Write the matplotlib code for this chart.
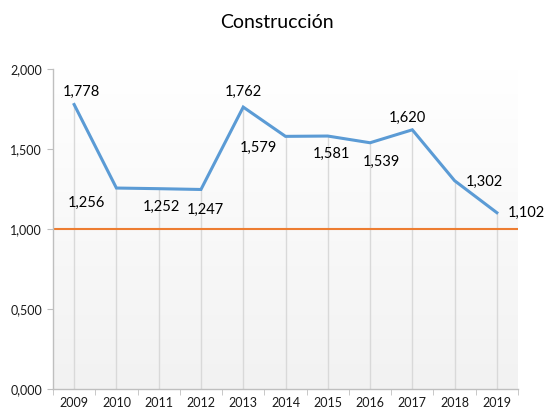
import matplotlib
matplotlib.use("Agg")
import matplotlib.pyplot as plt
import numpy as np
from matplotlib.colors import LinearSegmentedColormap

years = ["2009", "2010", "2011", "2012", "2013", "2014", "2015", "2016", "2017", "2018", "2019"]
values = [1.778, 1.256, 1.252, 1.247, 1.762, 1.579, 1.581, 1.539, 1.620, 1.302, 1.102]
reference_level = 1.0
title = "Construcción"
yticks = [0.0, 0.5, 1.0, 1.5, 2.0]

# label offsets in pixels (dx, dy with dy positive = up)
label_offsets = [(7, 13), (-30, -15), (3, -18), (4, -20), (0, 15), (-27, -12),
                 (4, -18), (11, -19), (-5, 12), (30, -1), (30, 0)]

plt.rcParams['font.family'] = ['Lato', 'DejaVu Sans']

fig = plt.figure(figsize=(5.46, 4.12), dpi=100)
ax = fig.add_axes([53/546, 1-389/412, (518-53)/546, (389-69)/412])

x = np.arange(len(years))
ax.set_xlim(-0.5, len(years) - 0.5)
ax.set_ylim(0, 2.0)

# gradient background
cmap = LinearSegmentedColormap.from_list("bg", ["#f2f2f2", "#ffffff"])
grad = np.linspace(0, 1, 256).reshape(-1, 1)
ax.imshow(grad, extent=[-0.5, len(years) - 0.5, 0, 2.0], origin="lower",
          aspect="auto", cmap=cmap, zorder=0)

# drop lines
ax.vlines(x, 0, values, colors="#d9d9d9", linewidth=1, zorder=1)

ax.axhline(reference_level, color="#ed7d31", linewidth=1.5, zorder=2)
ax.plot(x, values, color="#5b9bd5", linewidth=2.2, zorder=3, solid_joinstyle="miter")

for xi, v, (dx, dy) in zip(x, values, label_offsets):
    ax.annotate(f"{v:.3f}".replace(".", ","), (xi, v),
                xytext=(dx * 0.72, dy * 0.72), textcoords="offset points",
                ha="center", va="center", fontsize=10.5, color="#000000", zorder=4)

ax.set_yticks(yticks)
ax.set_yticklabels([f"{t:.3f}".replace(".", ",") for t in yticks])
ax.set_xticks(x)
ax.set_xticklabels(years)
ax.set_xticks(np.arange(-0.5, len(years)), minor=True)
ax.tick_params(axis="x", which="major", length=0, pad=6, labelsize=9, labelcolor="#1a1a1a")
ax.tick_params(axis="x", which="minor", length=4, color="#bfbfbf", direction="out")
ax.tick_params(axis="y", length=4, color="#bfbfbf", pad=4, labelsize=9, labelcolor="#1a1a1a")

for s in ["top", "right"]:
    ax.spines[s].set_visible(False)
for s in ["left", "bottom"]:
    ax.spines[s].set_color("#bfbfbf")
    ax.spines[s].set_linewidth(1)

fig.text(277/546, 1-22/412, title, ha="center", va="center", fontsize=14)

fig.savefig("out.png", dpi=100)
